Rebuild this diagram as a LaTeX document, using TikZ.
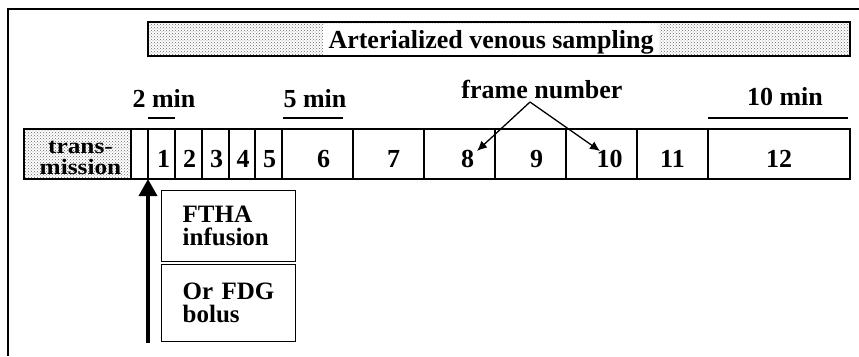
\documentclass[tikz,border=0pt]{standalone}
\usepackage{fontspec}
\setmainfont{Liberation Serif}
\newfontfamily\widefont[FakeStretch=1.15]{Liberation Serif}
\usetikzlibrary{arrows.meta,patterns}

\tikzset{
  lbl/.style={font=\bfseries\fontsize{26}{23}\selectfont, inner sep=0pt},
  stip/.style={pattern=crosshatch dots, pattern color=black!60},
  cell/.style={draw, line width=1.4pt, minimum height=50pt, inner sep=0pt, outer sep=0pt},
  dig/.style={lbl, anchor=base},
  agent/.style={draw, line width=1.4pt, minimum width=134pt, anchor=north west,
    inner xsep=21pt, inner ysep=0pt, text width=92pt, align=left,
    font=\bfseries\fontsize{25}{23}\selectfont},
}

\begin{document}
\begin{tikzpicture}[x=1pt,y=-1pt]
\useasboundingbox (0,0) rectangle (859,356);
\draw[line width=1.5pt] (859,9) -- (8,9) -- (8,356);

\node[draw, stip, line width=1.5pt, minimum width=702pt, minimum height=34pt, inner sep=0pt] (avs) at (499,39) {};
\node[lbl, fill=white, minimum width=336pt, minimum height=31pt, text height=18pt, text depth=0pt] (avst) at (491,39) {Arterialized venous sampling};

\node[lbl, anchor=base] (m2) at (164,107) {2 min};
\node[lbl, anchor=base] (m5) at (315,107) {5 min};
\node[lbl, anchor=base] (fn) at (542,98) {frame number};
\node[lbl, anchor=base] (m10) at (785,105) {10 min};
\draw[line width=1.4pt] (148,118) -- (175,118);
\draw[line width=1.4pt] (283,118) -- (343,118);
\draw[line width=1.4pt] (708,118) -- (848,118);

\node[cell, stip, minimum width=107pt] (tr) at (77.5,154) {};
\node[align=center, inner sep=0pt, font=\widefont\bfseries\fontsize{22}{20.5}\selectfont] (trt) at ([xshift=3pt,yshift=-4pt]tr.center) {trans-\\mission};
\node[cell, minimum width=17pt] (g0) at (139.5,154) {};
\foreach \n/\a/\b/\d in {1/148/175/2,2/175/202/1,3/202/229/1,4/229/255/1,5/255/282/1,6/282/353/6,
  7/353/424/5,8/424/495/8,9/495/566/6,10/566/637/8,11/637/708/0,12/708/850/0}{
  \node[cell, minimum width={(\b-\a)*1pt}] (f\n) at ({(\a+\b)/2},154) {};
  \node[dig] (d\n) at ([xshift=\d pt,yshift=-13pt]f\n.center) {\n};
}

\coordinate (fa) at (530,102);
\coordinate (t8) at (477,151);
\coordinate (t10) at (600,151);
\draw[line width=1.3pt, -{Latex[length=10pt,width=9pt]}] (fa) -- (t8);
\draw[line width=1.3pt, -{Latex[length=10pt,width=9pt]}] (fa) -- (t10);

\node[agent, minimum height=71pt] (ftha) at (161,190) {FTHA\\infusion};
\node[agent, minimum height=77pt] (fdg) at (161,264) {Or FDG\\bolus};

\coordinate (inj) at (148,343);
\draw[line width=3.5pt, -{Triangle[length=17pt,width=18pt]}] (inj) -- (f1.south west);

\end{tikzpicture}
\end{document}
